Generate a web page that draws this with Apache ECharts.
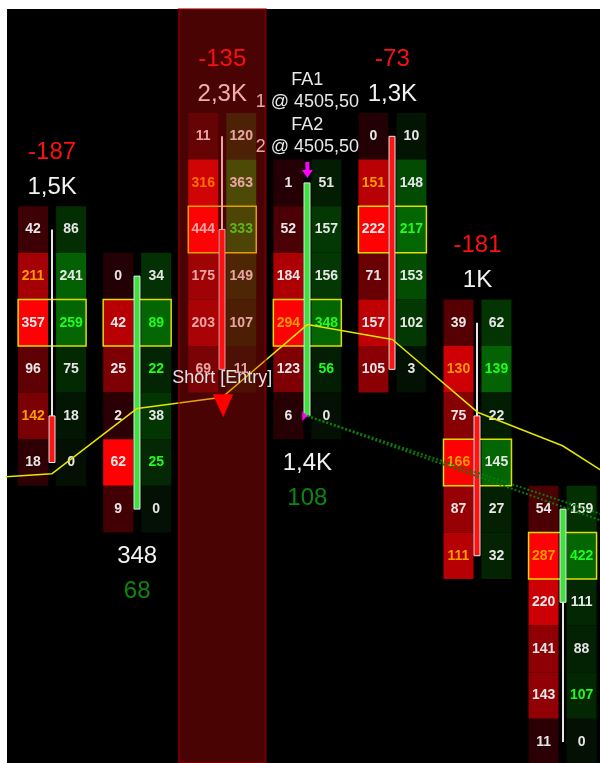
<!DOCTYPE html>
<html><head><meta charset="utf-8">
<script src="https://cdn.jsdelivr.net/npm/echarts@6/dist/echarts.min.js"></script>
<style>html,body{margin:0;padding:0;background:#fff;} #c{width:600px;height:763px;}</style>
</head><body><div id="c"></div>
<script>
const TICK = 0.25;
const barNames = ['1', '2', '3', '4', '5', '6', '7'];
const highs  = [4505.25, 4505.00, 4505.75, 4505.50, 4505.75, 4504.75, 4503.75];
const lows   = [4504.00, 4503.75, 4504.50, 4504.25, 4504.50, 4503.50, 4502.50];
const opens  = [4504.25, 4503.75, 4505.25, 4504.25, 4505.75, 4504.25, 4503.25];
const closes = [4504.00, 4505.00, 4504.50, 4505.50, 4504.50, 4503.50, 4503.75];
const bids = [
  [42, 211, 357, 96, 142, 18],
  [0, 42, 25, 2, 62, 9],
  [11, 316, 444, 175, 203, 69],
  [1, 52, 184, 294, 123, 6],
  [0, 151, 222, 71, 157, 105],
  [39, 130, 75, 166, 87, 111],
  [54, 287, 220, 141, 143, 11]
];
const asks = [
  [86, 241, 259, 75, 18, 0],
  [34, 89, 22, 38, 25, 0],
  [120, 363, 333, 149, 107, 11],
  [51, 157, 156, 348, 56, 0],
  [10, 148, 217, 153, 102, 3],
  [62, 139, 22, 145, 27, 32],
  [159, 422, 111, 88, 107, 0]
];
const vwapX = [-1, 0, 1, 2, 3, 4, 5, 6, 7];
const vwap  = [4503.91, 4503.94, 4504.29, 4504.35, 4504.74, 4504.66, 4504.27, 4504.09, 4503.80];
const stopLineA = [[3, 4504.25], [7, 4503.64]];
const stopLineB = [[3, 4504.25], [7, 4503.60]];
const fills = [[3, 4505.50, 1, 'FA1'], [3, 4505.50, 2, 'FA2']];
const exitMarks = [[3, 4504.25]];
const entryBar = 2;
const entryLabel = 'Short [Entry]';
const IMB = 1.75;

const FONT = '"Liberation Sans", Arial, sans-serif';
const chart = echarts.init(document.getElementById('c'));

const cellData = [];
bids.forEach((col, i) => col.forEach((b, k) => cellData.push([i, highs[i] - k * TICK, k])));

function bidFill(r) { return 'rgb(' + Math.round(35 + 220 * r) + ',0,4)'; }
function askFill(r) { return 'rgb(3,' + Math.round(16 + 86 * r) + ',3)'; }

function renderCell(params, api) {
  const i = api.value(0), p = api.value(1), k = api.value(2);
  const a = api.coord([i, p + TICK / 2]), b = api.coord([i, p - TICK / 2]);
  const cx = a[0], y0 = a[1], h = b[1] - a[1];
  const bc = bids[i], ac = asks[i];
  const bv = bc[k], av = ac[k];
  const maxB = Math.max.apply(null, bc), maxA = Math.max.apply(null, ac);
  let bidCol = '#e6e6e6', askCol = '#e6e6e6';
  if (k > 0 && bv > 0 && bv >= IMB * ac[k - 1]) bidCol = '#ff9a00';
  if (k < bc.length - 1 && av > 0 && av >= IMB * bc[k + 1]) askCol = '#1cff1c';
  let poc = 0, best = -1;
  bc.forEach((v, j) => { if (v + ac[j] > best) { best = v + ac[j]; poc = j; } });
  const ch = [
    {type: 'rect', shape: {x: cx - 34, y: y0, width: 30, height: h}, style: {fill: bidFill(maxB ? bv / maxB : 0)}},
    {type: 'rect', shape: {x: cx + 4, y: y0, width: 30, height: h}, style: {fill: askFill(maxA ? av / maxA : 0)}},
    {type: 'text', z2: 5, style: {text: String(bv), x: cx - 19, y: y0 + h / 2, align: 'center', verticalAlign: 'middle', fill: bidCol, font: 'bold 14px ' + FONT}},
    {type: 'text', z2: 5, style: {text: String(av), x: cx + 19, y: y0 + h / 2, align: 'center', verticalAlign: 'middle', fill: askCol, font: 'bold 14px ' + FONT}}
  ];
  if (k === poc) ch.push({type: 'rect', z2: 10, shape: {x: cx - 34, y: y0, width: 68, height: h}, style: {fill: 'none', stroke: '#dede00', lineWidth: 1.5}});
  return {type: 'group', children: ch};
}

function renderCandle(params, api) {
  const i = api.value(0);
  const o = api.coord([i, api.value(1)]), c = api.coord([i, api.value(2)]);
  const l = api.coord([i, api.value(3)]), h = api.coord([i, api.value(4)]);
  const cx = Math.round(o[0]);
  const up = api.value(2) >= api.value(1);
  const top = Math.min(o[1], c[1]), bot = Math.max(o[1], c[1]);
  return {type: 'group', children: [
    {type: 'line', shape: {x1: cx, y1: h[1], x2: cx, y2: l[1]}, style: {stroke: '#e6e6e6', lineWidth: 2}},
    {type: 'rect', shape: {x: cx - 3, y: top, width: 6, height: bot - top}, style: {fill: up ? '#3fe03f' : '#ff1414', stroke: '#e6e6e6', lineWidth: 1}}
  ]};
}

function fmtVol(v) {
  if (v < 1000) return String(v);
  return (v / 1000).toFixed(1).replace(/\.0$/, '').replace('.', ',') + 'K';
}

function renderStats(params, api) {
  const i = api.value(0);
  const sb = bids[i].reduce((s, v) => s + v, 0), sa = asks[i].reduce((s, v) => s + v, 0);
  const vol = sb + sa, delta = sa - sb;
  const tb = api.coord([i, highs[i] + TICK / 2]);
  const bb = api.coord([i, lows[i] - TICK / 2]);
  const cx = tb[0];
  let yv, yd;
  if (delta < 0) { yv = tb[1] - 19; yd = tb[1] - 54; } else { yv = bb[1] + 24; yd = bb[1] + 59; }
  return {type: 'group', children: [
    {type: 'text', style: {text: fmtVol(vol), x: cx, y: yv, align: 'center', verticalAlign: 'middle', fill: '#f2f2f2', font: '24px ' + FONT}},
    {type: 'text', style: {text: String(delta), x: cx, y: yd, align: 'center', verticalAlign: 'middle', fill: delta < 0 ? '#ff1010' : '#0d860d', font: '24px ' + FONT}}
  ]};
}

function renderFills(params, api) {
  const i = api.value(0), p = api.value(1), q = api.value(2);
  const pt = api.coord([i, p]);
  const cx = pt[0], y = pt[1];
  const n = params.dataIndex;
  const txt = fills[n][3];
  const ch = [];
  const off = n === 0 ? 45 : 0;
  ch.push({type: 'text', style: {text: txt, x: cx, y: y - 58 - off, align: 'center', verticalAlign: 'middle', fill: '#e8e8e8', font: '18px ' + FONT}});
  ch.push({type: 'text', style: {text: q + ' @ ' + p.toFixed(2).replace('.', ','), x: cx, y: y - 36 - off, align: 'center', verticalAlign: 'middle', fill: '#e8e8e8', font: '18px ' + FONT}});
  if (n === fills.length - 1) {
    ch.push({type: 'rect', shape: {x: cx - 2, y: y - 21, width: 4, height: 9}, style: {fill: '#ff00ff'}});
    ch.push({type: 'polygon', shape: {points: [[cx - 5.5, y - 13], [cx + 5.5, y - 13], [cx, y - 5]]}, style: {fill: '#ff00ff'}});
  }
  return {type: 'group', children: ch};
}

function renderOverlay(params, api) {
  const i = api.value(0);
  const l = api.coord([i - 0.51, 0])[0], r = api.coord([i + 0.51, 0])[0];
  const cs = params.coordSys;
  return {type: 'rect', shape: {x: l, y: cs.y, width: r - l, height: cs.height}, style: {fill: 'rgba(245,10,10,0.3)', stroke: 'rgba(160,0,0,0.55)', lineWidth: 2}};
}

function renderEntry(params, api) {
  const i = api.value(0);
  const pt = api.coord([i, lows[i]]);
  const cx = pt[0], y = pt[1];
  return {type: 'group', children: [
    {type: 'polygon', shape: {points: [[cx - 9.5, y + 25], [cx + 11, y + 25], [cx + 1, y + 48]]}, style: {fill: '#ff0000'}},
    {type: 'text', style: {text: entryLabel, x: cx, y: y + 9, align: 'center', verticalAlign: 'middle', fill: '#e2e2e2', font: '18px ' + FONT}}
  ]};
}

function renderExit(params, api) {
  const pt = api.coord([api.value(0), api.value(1)]);
  const x = pt[0], y = pt[1];
  return {type: 'polygon', shape: {points: [[x - 5, y - 5], [x - 5, y + 5], [x, y]]}, style: {fill: '#ff00ff'}};
}

chart.setOption({
  animation: false,
  backgroundColor: '#ffffff',
  grid: {left: 7, top: 9, width: 593, height: 754, show: true, backgroundColor: '#000000', borderWidth: 0},
  xAxis: {type: 'value', min: -0.53, max: 6.44, show: false},
  yAxis: {type: 'value', min: 4502.388, max: 4506.433, show: false},
  series: [
    {type: 'custom', name: 'cells', z: 2, data: cellData, renderItem: renderCell, clip: true},
    {type: 'custom', name: 'candles', z: 3, data: barNames.map((n, i) => [i, opens[i], closes[i], lows[i], highs[i]]), renderItem: renderCandle},
    {type: 'custom', name: 'stats', z: 3, data: barNames.map((n, i) => [i]), renderItem: renderStats},
    {type: 'custom', name: 'fills', z: 3, data: fills.map(f => [f[0], f[1], f[2]]), renderItem: renderFills},
    {type: 'line', name: 'vwap', z: 4, data: vwapX.map((x, j) => [x, vwap[j]]), symbol: 'none', lineStyle: {color: '#e6e600', width: 1.5}},
    {type: 'custom', name: 'highlight', z: 5, data: [[entryBar]], renderItem: renderOverlay},
    {type: 'line', name: 'stopA', z: 6, data: stopLineA, symbol: 'none', lineStyle: {color: '#0b7a0b', width: 2, type: 'dotted'}},
    {type: 'line', name: 'stopB', z: 6, data: stopLineB, symbol: 'none', lineStyle: {color: '#0b7a0b', width: 2, type: 'dotted'}},
    {type: 'custom', name: 'exit', z: 7, data: exitMarks, renderItem: renderExit},
    {type: 'custom', name: 'entry', z: 7, data: [[entryBar]], renderItem: renderEntry}
  ]
});
</script></body></html>
